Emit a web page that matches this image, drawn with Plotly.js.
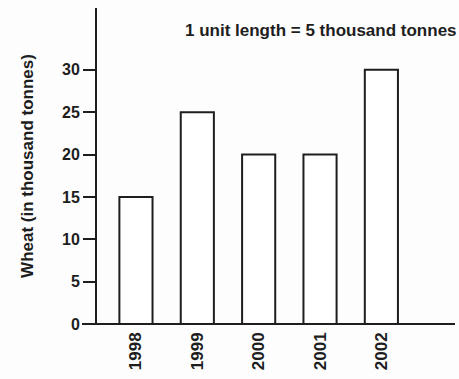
<!DOCTYPE html>
<html>
<head>
<meta charset="utf-8">
<script src="https://cdn.plot.ly/plotly-3.0.1.min.js"></script>
<style>html,body{margin:0;padding:0;background:#fff;}#chart{width:459px;height:379px;}</style>
</head>
<body>
<div id="chart"></div>
<script>
const years = ["1998", "1999", "2000", "2001", "2002"];
const wheat = [15, 25, 20, 20, 30];
const yTicks = [0, 5, 10, 15, 20, 25, 30];

const ink = "#1e1e1e";
const fam = "Liberation Sans, Arial, sans-serif";
const tickFont = {family: fam, size: 16, color: ink, weight: "bold"};

const trace = {
  type: "bar",
  x: years,
  y: wheat,
  width: 0.54,
  marker: {color: "#ffffff", line: {color: ink, width: 2}},
  hoverinfo: "skip"
};

const layout = {
  width: 459,
  height: 379,
  margin: {l: 97, r: 4, t: 8, b: 55},
  paper_bgcolor: "#fdfdfd",
  plot_bgcolor: "#fdfdfd",
  showlegend: false,
  font: {family: fam, size: 16, color: ink},
  title: {
    text: "1 unit length = 5 thousand tonnes",
    font: {family: fam, size: 17, color: ink, weight: "bold"},
    x: 185 / 459, xanchor: "left", xref: "container",
    y: 1 - 30 / 379, yanchor: "middle", yref: "container"
  },
  xaxis: {
    type: "category",
    range: [-0.635, 5.2],
    showgrid: false, zeroline: false, showline: false,
    ticks: "", tickangle: -90, ticklabelstandoff: 4,
    tickfont: {family: fam, size: 17, color: ink, weight: "bold"}
  },
  yaxis: {
    range: [0, 37.3],
    tickvals: yTicks,
    ticktext: yTicks.map(String),
    showgrid: false, zeroline: false,
    showline: true, linecolor: ink, linewidth: 2,
    ticks: "outside", ticklen: 12, tickwidth: 2, tickcolor: ink,
    tickfont: tickFont,
    title: {text: "Wheat (in thousand tonnes)", font: {family: fam, size: 17, color: ink, weight: "bold"}, standoff: 24}
  },
  shapes: [{
    type: "line", xref: "paper", yref: "paper",
    x0: -15 / 358, x1: 1, y0: 0, y1: 0,
    line: {color: ink, width: 2}, layer: "above"
  }]
};

Plotly.newPlot("chart", [trace], layout, {staticPlot: true, displayModeBar: false});
</script>
</body>
</html>
